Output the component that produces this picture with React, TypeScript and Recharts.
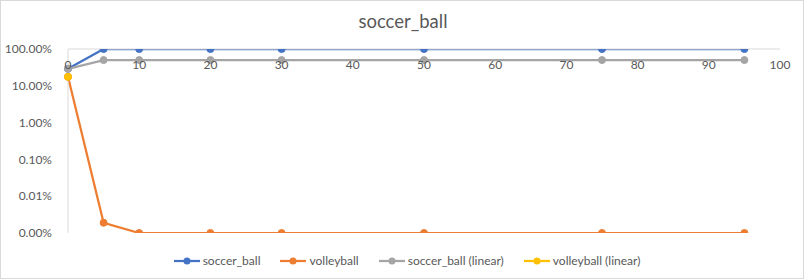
import { LineChart, Line, XAxis, YAxis } from "recharts";

const xValues = [0, 5, 10, 20, 30, 50, 75, 95];
const soccerBall = [0.29, 1, 1, 1, 1, 1, 1, 1];
const volleyball = [0.175, 0.000019, 0.00001, 0.00001, 0.00001, 0.00001, 0.00001, 0.00001];
const soccerBallLinear = [0.29, 0.5, 0.5, 0.5, 0.5, 0.5, 0.5, 0.5];
const volleyballLinear: (number | null)[] = [0.175, null, null, null, null, null, null, null];

const xTicks = [0, 10, 20, 30, 40, 50, 60, 70, 80, 90, 100];
const yTicks = [0.00001, 0.0001, 0.001, 0.01, 0.1, 1];

const series = [
  { key: "soccer_ball", name: "soccer_ball", color: "#4472C4" },
  { key: "volleyball", name: "volleyball", color: "#ED7D31" },
  { key: "soccer_ball_linear", name: "soccer_ball (linear)", color: "#A5A5A5" },
  { key: "volleyball_linear", name: "volleyball (linear)", color: "#FFC000" },
];

const rows = xValues.map((x, i) => ({
  x,
  soccer_ball: soccerBall[i],
  volleyball: volleyball[i],
  soccer_ball_linear: soccerBallLinear[i],
  volleyball_linear: volleyballLinear[i],
}));

const FONT = "Lato, 'Liberation Sans', sans-serif";
const TEXT = "#595959";

const XTick = (props: any) => {
  const { x, y, payload } = props;
  return (
    <text x={x} y={y + 15} textAnchor="middle" dominantBaseline="central" fill={TEXT} fontSize={12} fontFamily={FONT}>
      {payload.value}
    </text>
  );
};

export default function App() {
  return (
    <div
      style={{
        position: "relative",
        width: 804,
        height: 279,
        boxSizing: "border-box",
        border: "1px solid #d9d9d9",
        background: "#fff",
        fontFamily: FONT,
      }}
    >
      <style>{"body{margin:0}"}</style>
      <div
        style={{
          position: "absolute",
          top: 8,
          left: 0,
          width: 804,
          textAlign: "center",
          fontSize: 18.5,
          color: TEXT,
          lineHeight: "24px",
        }}
      >
        soccer_ball
      </div>
      <div style={{ position: "absolute", top: -1, left: -1 }}>
        <LineChart width={804} height={279} data={rows} margin={{ top: 29, right: 24, bottom: 46, left: 8 }}>
          <XAxis
            dataKey="x"
            type="number"
            domain={[0, 100]}
            ticks={xTicks}
            orientation="top"
            height={20}
            tickSize={0}
            tickMargin={0}
            tickLine={false}
            axisLine={{ stroke: "#d9d9d9" }}
            tick={<XTick />}
          />
          <YAxis
            scale="log"
            domain={[0.00001, 1]}
            ticks={yTicks}
            allowDataOverflow
            width={60}
            tickLine={false}
            tickMargin={10}
            axisLine={{ stroke: "#d9d9d9" }}
            tick={{ fill: TEXT, fontSize: 12, fontFamily: FONT }}
            tickFormatter={(v: number) => (v * 100).toFixed(2) + "%"}
          />
          {series.map((s) => (
            <Line
              key={s.key}
              type="linear"
              dataKey={s.key}
              name={s.name}
              stroke={s.color}
              strokeWidth={2.25}
              dot={{ r: 3.5, fill: s.color, stroke: s.color, strokeWidth: 1 }}
              activeDot={false}
              isAnimationActive={false}
            />
          ))}
        </LineChart>
      </div>
      <div
        style={{
          position: "absolute",
          top: 252,
          left: 0,
          width: 804,
          display: "flex",
          justifyContent: "center",
          gap: 20,
          fontSize: 12,
          color: TEXT,
          lineHeight: "16px",
          paddingLeft: 8,
          boxSizing: "border-box",
        }}
      >
        {series.map((s) => (
          <div key={s.key} style={{ display: "flex", alignItems: "center" }}>
            <svg width={26} height={10} style={{ marginRight: 3 }}>
              <line x1={0} y1={5} x2={26} y2={5} stroke={s.color} strokeWidth={2.25} />
              <circle cx={13} cy={5} r={3.5} fill={s.color} />
            </svg>
            <span>{s.name}</span>
          </div>
        ))}
      </div>
    </div>
  );
}
